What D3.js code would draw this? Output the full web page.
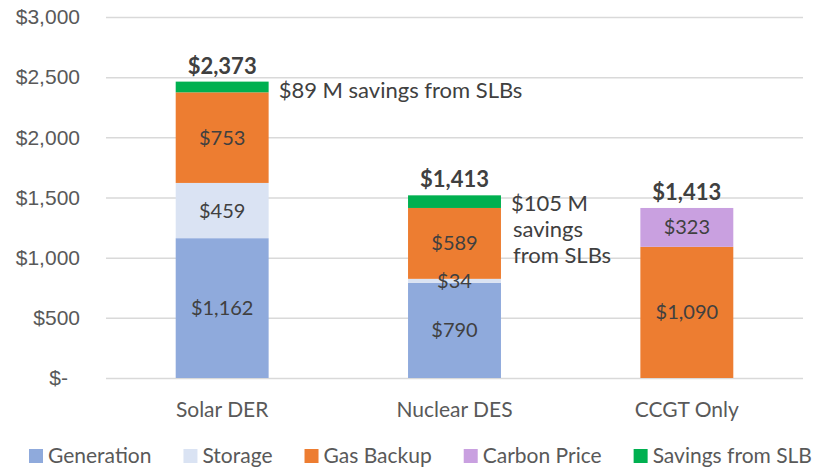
<!DOCTYPE html>
<html>
<head>
<meta charset="utf-8">
<script src="https://cdn.jsdelivr.net/npm/d3@7"></script>
<style>
  body { margin: 0; background: #fff; }
  svg { display: block; font-family: Lato, "Open Sans", sans-serif; }
</style>
</head>
<body>
<svg id="chart"></svg>
<script>
// chart data
const categories = ["Solar DER", "Nuclear DES", "CCGT Only"];
const seriesNames = ["Generation", "Storage", "Gas Backup", "Carbon Price", "Savings from SLB"];
const generation = [1162, 790, 0];
const storage = [459, 34, 0];
const gasBackup = [753, 589, 1090];
const carbonPrice = [0, 0, 323];
const savings = [89, 105, 0];
const totals = [2373, 1413, 1413];
const yTicks = [0, 500, 1000, 1500, 2000, 2500, 3000];
const notes = [
  { cat: "Solar DER", lines: ["$89 M savings from SLBs"] },
  { cat: "Nuclear DES", lines: ["$105 M", "savings", "from SLBs"] }
];

const colors = ["#8faadc", "#dae3f3", "#ed7d31", "#c9a0e0", "#00b050"];

const width = 816, height = 468;
const margin = { top: 17, right: 13, bottom: 90, left: 106 };

const svg = d3.select("#chart").attr("width", width).attr("height", height);

const rows = categories.map((c, i) => ({
  cat: c,
  "Generation": generation[i],
  "Storage": storage[i],
  "Gas Backup": gasBackup[i],
  "Carbon Price": carbonPrice[i],
  "Savings from SLB": savings[i],
  total: totals[i]
}));

const x = d3.scaleBand()
  .domain(categories)
  .range([margin.left, width - margin.right])
  .paddingInner(0.6)
  .paddingOuter(0.3);

const y = d3.scaleLinear()
  .domain([0, 3000])
  .range([height - margin.bottom, margin.top]);

const fmt = d3.format(",");

// gridlines + y labels
const yAxis = d3.axisLeft(y)
  .tickValues(yTicks)
  .tickSize(-(width - margin.left - margin.right))
  .tickPadding(26)
  .tickFormat(d => d === 0 ? "$-" : "$" + fmt(d));

const gy = svg.append("g")
  .attr("transform", `translate(${margin.left},0)`)
  .call(yAxis);
gy.select(".domain").remove();
gy.selectAll(".tick line").attr("stroke", "#d9d9d9").attr("stroke-width", 1.5);
gy.selectAll(".tick text")
  .attr("fill", "#595959")
  .style("font-size", "21px")
  .attr("x", d => d === 0 ? -38 : -26);

// stacked bars
const stack = d3.stack().keys(seriesNames)(rows);

const layers = svg.append("g").selectAll("g")
  .data(stack)
  .join("g")
    .attr("fill", (d, i) => colors[i]);

layers.selectAll("rect")
  .data(d => d)
  .join("rect")
    .attr("x", d => x(d.data.cat))
    .attr("width", x.bandwidth())
    .attr("y", d => y(d[1]))
    .attr("height", d => y(d[0]) - y(d[1]));

// segment value labels (not for savings), drawn above every bar
const segs = stack.filter(s => s.key !== "Savings from SLB")
  .flatMap(s => s.filter(v => v[1] - v[0] > 0));

svg.append("g").selectAll("text")
  .data(segs)
  .join("text")
    .attr("x", d => x(d.data.cat) + x.bandwidth() / 2)
    .attr("y", d => (y(d[0]) + y(d[1])) / 2)
    .attr("dy", "0.35em")
    .attr("text-anchor", "middle")
    .attr("fill", "#404040")
    .style("font-size", "20px")
    .text(d => "$" + fmt(d[1] - d[0]));

// totals on top
const stackTop = stack[stack.length - 1];
svg.append("g").selectAll("text")
  .data(stackTop)
  .join("text")
    .attr("x", d => x(d.data.cat) + x.bandwidth() / 2)
    .attr("y", d => y(d[1]) - 8)
    .attr("text-anchor", "middle")
    .attr("fill", "#404040")
    .style("font-size", "22px")
    .style("font-weight", "bold")
    .text(d => "$" + fmt(d.data.total));

// savings notes
notes.forEach(n => {
  const i = categories.indexOf(n.cat);
  const t = svg.append("text")
    .attr("y", y(stackTop[i][1]) + 16)
    .attr("fill", "#404040")
    .style("font-size", "22px");
  n.lines.forEach((l, j) => {
    t.append("tspan")
      .attr("x", x(n.cat) + x.bandwidth() + (j === 0 ? 10 : 12))
      .attr("dy", j === 0 ? 0 : 26)
      .text(l);
  });
});

// category labels
svg.append("g").selectAll("text")
  .data(categories)
  .join("text")
    .attr("x", d => x(d) + x.bandwidth() / 2)
    .attr("y", height - margin.bottom + 32)
    .attr("dy", "0.35em")
    .attr("text-anchor", "middle")
    .attr("fill", "#595959")
    .style("font-size", "21px")
    .text(d => d);

// legend
const legend = svg.append("g").attr("transform", "translate(29,456)");
let lx = 0;
seriesNames.forEach((s, i) => {
  const item = legend.append("g").attr("transform", `translate(${lx},0)`);
  item.append("rect")
    .attr("x", 0).attr("y", -7)
    .attr("width", 14).attr("height", 14)
    .attr("fill", colors[i]);
  const t = item.append("text")
    .attr("x", 19)
    .attr("dy", "0.35em")
    .attr("fill", "#595959")
    .style("font-size", "21px")
    .text(s);
  lx += 19 + t.node().getComputedTextLength() + 32;
});
</script>
</body>
</html>
